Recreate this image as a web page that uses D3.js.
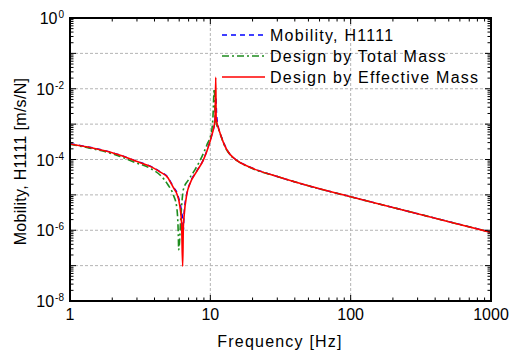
<!DOCTYPE html>
<html>
<head>
<meta charset="utf-8">
<script src="https://cdn.jsdelivr.net/npm/d3@7"></script>
<style>
  body { margin: 0; background: #fff; }
  svg { display: block; }
  text { font-family: "Liberation Sans", Arial, sans-serif; fill: #000; }
</style>
</head>
<body>
<svg id="chart" width="522" height="351"></svg>
<script>
// Measured point mobility H1111 [m/s/N]
const freqMeas = [1, 1.34, 1.5, 2, 2.2, 2.9, 3.8, 4.4, 5.0, 5.16, 5.56, 5.76, 6.07, 6.24, 6.35, 6.42, 6.5, 6.8, 7.17, 8.0,
                  8.93, 9.69, 10.25, 10.8, 10.95, 11.1, 11.44, 12.07, 12.4, 13.1, 13.8, 15.4, 19.2, 30, 50, 100, 200, 500, 1000];
const mobMeas  = [2.8e-4, 2.28e-4, 2.08e-4, 1.57e-4, 1.4e-4, 9.3e-5, 6.3e-5, 4.5e-5, 3.1e-5, 2.5e-5,
                  1.5e-5, 1.2e-5, 6.0e-6, 3.5e-6, 2.0e-6, 9.0e-7, 3.0e-6, 1.1e-5, 2.2e-5, 4.7e-5,
                  1.0e-4, 2.4e-4, 5.0e-4, 1.4e-3, 6.0e-3, 1.8e-3, 7.8e-4, 4.1e-4, 3.1e-4, 1.95e-4,
                  1.4e-4, 9.6e-5, 6.1e-5, 3.3e-5, 1.8e-5, 8.9e-6, 4.4e-6, 1.76e-6, 8.8e-7];

// Design by total mass
const freqTot = [1, 1.34, 1.5, 2, 2.2, 2.9, 3.8, 4.4, 5.0, 5.45, 5.76, 5.91, 5.95, 6.17, 6.3, 6.42, 6.96, 7.76, 8.93, 9.42,
                 10.25, 10.41, 10.67, 10.85, 11.1, 11.44, 12.07, 12.4, 13.1, 13.8, 15.4, 19.2, 30, 50, 100, 200, 500, 1000];
const mobTot  = [2.7e-4, 2.15e-4, 1.95e-4, 1.45e-4, 1.28e-4, 8.3e-5, 5.4e-5, 3.6e-5, 1.9e-5, 1.0e-5,
                 4.5e-6, 8.0e-7, 2.8e-7, 2.5e-6, 7.5e-6, 1.4e-5, 2.6e-5, 5.1e-5, 1.5e-4, 2.5e-4,
                 6.9e-4, 1.3e-3, 1.0e-2, 1.6e-3, 9.5e-4, 7.3e-4, 3.9e-4, 2.95e-4, 1.85e-4, 1.38e-4,
                 9.4e-5, 5.9e-5, 3.3e-5, 1.8e-5, 8.8e-6, 4.4e-6, 1.75e-6, 8.7e-7];

// Design by effective mass
const freqEff = [1, 1.34, 1.5, 2, 2.2, 2.9, 3.8, 4.4, 5.0, 5.16, 5.56, 5.76, 6.07, 6.24, 6.35, 6.42, 6.5, 6.8, 7.17, 8.0,
                 8.93, 9.69, 10.25, 10.8, 10.93, 11.0, 11.2, 11.44, 12.07, 12.4, 13.1, 13.8, 15.4, 19.2, 30, 50, 100, 200, 500, 1000];
const mobEff  = [2.75e-4, 2.25e-4, 2.05e-4, 1.55e-4, 1.38e-4, 9.2e-5, 6.2e-5, 4.4e-5, 3.0e-5, 2.4e-5,
                 1.4e-5, 1.1e-5, 4.7e-6, 1.6e-6, 9.5e-8, 1.2e-6, 2.5e-6, 1.05e-5, 2.1e-5, 4.6e-5,
                 9.8e-5, 2.3e-4, 4.9e-4, 1.3e-3, 2.1e-2, 1.6e-3, 1.0e-3, 7.5e-4, 4.0e-4, 3.0e-4,
                 1.9e-4, 1.4e-4, 9.5e-5, 6.0e-5, 3.3e-5, 1.8e-5, 8.8e-6, 4.4e-6, 1.75e-6, 8.7e-7];

const seriesNames = ["Mobility, H1111", "Design by Total Mass", "Design by Effective Mass"];
const xTickLabels = ["1", "10", "100", "1000"];
const yExponents  = [0, -2, -4, -6, -8];
const xTitle = "Frequency [Hz]";
const yTitle = "Mobility, H1111 [m/s/N]";

const M = { left: 70, right: 491, top: 18, bottom: 301 };

const svg = d3.select("#chart");
const x = d3.scaleLog().domain([1, 1000]).range([M.left, M.right]);
const y = d3.scaleLog().domain([1e-8, 1]).range([M.bottom, M.top]);

const isDecade = v => Math.abs(Math.log10(v) - Math.round(Math.log10(v))) < 1e-9;

// grid
const grid = svg.append("g").attr("stroke", "#b4b4b4").attr("stroke-width", 1).attr("stroke-dasharray", "3,2");
x.ticks().filter(v => isDecade(v) && v > 1 && v < 1000).forEach(v => {
  grid.append("line").attr("x1", x(v)).attr("x2", x(v)).attr("y1", M.top).attr("y2", M.bottom);
});
y.ticks().filter(v => isDecade(v) && v > 1e-8 && v < 1).forEach(v => {
  grid.append("line").attr("x1", M.left).attr("x2", M.right).attr("y1", y(v)).attr("y2", y(v));
});

// curves
svg.append("clipPath").attr("id", "plotClip").append("rect")
  .attr("x", M.left).attr("y", M.top).attr("width", M.right - M.left).attr("height", M.bottom - M.top);

const line = d3.line().x(d => x(d[0])).y(d => y(d[1])).curve(d3.curveMonotoneX);
const series = [
  { f: freqMeas, v: mobMeas, color: "#0000ff", dash: "5,4", w: 1.4 },
  { f: freqTot,  v: mobTot,  color: "#1e8c1e", dash: "7,3,2,3", w: 1.6 },
  { f: freqEff,  v: mobEff,  color: "#ff0000", dash: null, w: 1.6 }
];
const plot = svg.append("g").attr("clip-path", "url(#plotClip)");
series.forEach(s => {
  plot.append("path")
    .datum(d3.zip(s.f, s.v))
    .attr("fill", "none")
    .attr("stroke", s.color)
    .attr("stroke-width", s.w)
    .attr("stroke-dasharray", s.dash)
    .attr("stroke-linejoin", "round")
    .attr("d", line);
});

// inward ticks on all four sides
const majLen = 6, minLen = 3.5;
const tk = svg.append("g").attr("stroke", "#000").attr("stroke-width", 1);
x.ticks().forEach(v => {
  const L = isDecade(v) ? majLen : minLen, px = x(v);
  tk.append("line").attr("x1", px).attr("x2", px).attr("y1", M.bottom).attr("y2", M.bottom - L);
  tk.append("line").attr("x1", px).attr("x2", px).attr("y1", M.top).attr("y2", M.top + L);
});
y.ticks().forEach(v => {
  const L = isDecade(v) ? majLen : minLen, py = y(v);
  tk.append("line").attr("x1", M.left).attr("x2", M.left + L).attr("y1", py).attr("y2", py);
  tk.append("line").attr("x1", M.right).attr("x2", M.right - L).attr("y1", py).attr("y2", py);
});

// frame
svg.append("rect")
  .attr("x", M.left).attr("y", M.top).attr("width", M.right - M.left).attr("height", M.bottom - M.top)
  .attr("fill", "none").attr("stroke", "#000").attr("stroke-width", 2);

// x tick labels
xTickLabels.forEach(t => {
  svg.append("text").attr("x", x(+t)).attr("y", 320).attr("text-anchor", "middle")
    .attr("font-size", 16).text(t);
});

// y tick labels: 10 with superscript exponent
yExponents.forEach(e => {
  const t = svg.append("text").attr("x", 64).attr("y", y(Math.pow(10, e)) + 6)
    .attr("text-anchor", "end").attr("font-size", 16);
  t.append("tspan").text("10");
  t.append("tspan").attr("font-size", 10).attr("dy", -6).attr("dx", 1).text(String(e));
});

// axis titles
svg.append("text").attr("x", 280).attr("y", 347).attr("text-anchor", "middle")
  .attr("font-size", 16).attr("letter-spacing", 1.2).text(xTitle);
svg.append("text").attr("transform", `translate(26,${(M.top + M.bottom) / 2 + 2}) rotate(-90)`)
  .attr("text-anchor", "middle").attr("font-size", 16).attr("letter-spacing", 0.3).text(yTitle);

// legend
const lg = svg.append("g");
series.forEach((s, i) => {
  const ly = 35 + i * 21;
  lg.append("line").attr("x1", 222).attr("x2", 265).attr("y1", ly).attr("y2", ly)
    .attr("stroke", s.color).attr("stroke-width", s.w).attr("stroke-dasharray", s.dash);
  lg.append("text").attr("x", 270).attr("y", ly + 5.7).attr("font-size", 16)
    .attr("letter-spacing", 1.25).text(seriesNames[i]);
});
</script>
</body>
</html>
